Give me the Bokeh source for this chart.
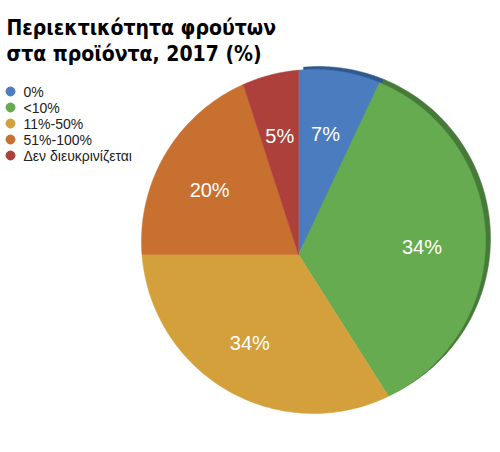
import numpy as np
from bokeh.core.properties import value
from bokeh.embed import file_html
from bokeh.models import ColumnDataSource, Range1d
from bokeh.plotting import figure
from bokeh.resources import INLINE

title_lines = ["Περιεκτικότητα φρούτων", "στα προϊόντα, 2017 (%)"]
categories = ["0%", "<10%", "11%-50%", "51%-100%", "Δεν διευκρινίζεται"]
shares = [7, 34, 34, 20, 5]
labels = [f"{s}%" for s in shares]

colors = ["#4b7cc0", "#66ab4f", "#d3a03b", "#c8702f", "#ad403a"]
rim_colors = ["#2e5a8e", "#467a38"]

W, H = 492, 436
# tilted pie: slices meet at an apex that is off the centre of the outline
apex = np.array([298.0, 254.0])
center = np.array([313.0, 241.0])
R = 172.0


def ray_length(theta):
    d = np.array([np.sin(theta), -np.cos(theta)])
    f = apex - center
    b = f @ d
    return -b + np.sqrt(b * b - (f @ f - R * R)), d


def slice_shape(a0, a1, dx=0.0, dy=0.0):
    xs, ys = [apex[0] + dx], [apex[1] + dy]
    for th in np.linspace(a0, a1, 80):
        t, d = ray_length(th)
        xs.append(apex[0] + t * d[0] + dx)
        ys.append(apex[1] + t * d[1] + dy)
    return xs, ys


fractions = np.array(shares) / sum(shares)
ends = np.cumsum(fractions) * 2 * np.pi
starts = ends - fractions * 2 * np.pi

p = figure(
    width=W,
    height=H,
    x_range=Range1d(0, W),
    y_range=Range1d(H, 0),
    output_backend="svg",
    toolbar_location=None,
    min_border=0,
)
p.axis.visible = False
p.grid.visible = False
p.outline_line_color = None

# darker rim on the back-right edge
rim_xs, rim_ys = [], []
for i in range(len(rim_colors)):
    xs, ys = slice_shape(starts[i], ends[i], 5, -3)
    rim_xs.append(xs)
    rim_ys.append(ys)
p.patches(xs=rim_xs, ys=rim_ys, fill_color=rim_colors, line_color=rim_colors, line_width=0.5)

faces = {"xs": [], "ys": [], "color": colors}
for a0, a1 in zip(starts, ends):
    xs, ys = slice_shape(a0, a1)
    faces["xs"].append(xs)
    faces["ys"].append(ys)
p.patches(xs="xs", ys="ys", fill_color="color", line_color="color", line_width=0.5,
          source=ColumnDataSource(faces))

# slice labels
lx, ly = [], []
for a0, a1 in zip(starts, ends):
    mid = (a0 + a1) / 2
    t, d = ray_length(mid)
    lx.append(apex[0] + 0.66 * t * d[0])
    ly.append(apex[1] + 0.66 * t * d[1])
p.text(x=lx, y=ly, text=labels, text_color="white", text_font=value("Liberation Sans"),
       text_font_size="20px", text_align="center", text_baseline="middle")

# title
p.text(x=[6, 6], y=[27.5, 53.5], text=title_lines, text_color="black",
       text_font=value("DejaVu Sans Condensed"), text_font_style="bold",
       text_font_size="21px", text_baseline="alphabetic")

# legend
leg_y = [91 + 16 * i for i in range(len(categories))]
p.scatter(x=[10] * len(categories), y=leg_y, size=9, color=colors)
p.text(x=[23] * len(categories), y=leg_y, text=categories, text_color="#222222",
       text_font=value("Liberation Sans"), text_font_size="14px", text_baseline="middle")

open("out.html", "w").write(file_html(p, INLINE))
